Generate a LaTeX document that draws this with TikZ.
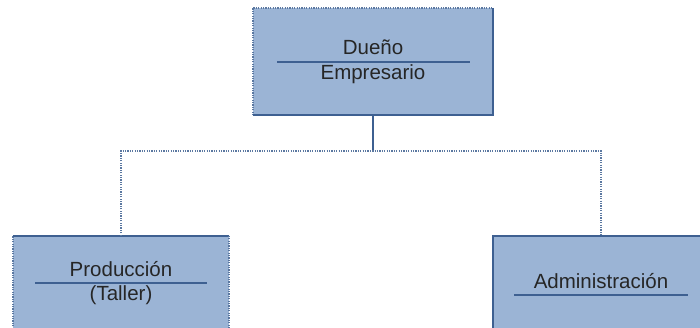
\documentclass[tikz,border=0pt]{standalone}
\usepackage{fontspec}
\setmainfont{Liberation Sans}
\usetikzlibrary{positioning}
\definecolor{cajaazul}{RGB}{155,180,213}
\definecolor{bordeazul}{RGB}{62,96,145}

\begin{document}
\begin{tikzpicture}[x=1pt,y=1pt]
\tikzstyle{caja}=[fill=cajaazul, minimum width=240pt, minimum height=107pt, inner sep=0pt]
\tikzstyle{texto}=[font=\fontsize{20.5}{24}\selectfont, text=black!85, inner sep=0pt, anchor=base]
\tikzstyle{raya}=[bordeazul, line width=2pt]
\tikzstyle{borde}=[bordeazul, line width=1.6pt]
\tikzstyle{punteado}=[bordeazul!85, line width=1.5pt, dash pattern=on 1.2pt off 1.2pt]
\useasboundingbox (0,0) rectangle (700,-328);
\clip (0,0) rectangle (700,-328);
% cajas
\node [caja] (duenio) at (373,-61.5) {};
\node [caja, minimum width=216pt] (prod) at (121,-289.5) {};
\node [caja, minimum width=216pt] (admin) at (601,-289.5) {};
% bordes
\draw [punteado] (duenio.south west) -- (duenio.north west) -- (duenio.north east);
\draw [borde] (duenio.north east) -- (duenio.south east) -- (duenio.south west);
\draw [punteado] (prod.south west) -- (prod.north west);
\draw [borde] (prod.north west) -- (prod.north east);
\draw [punteado] (prod.north east) -- (prod.south east);
\draw [borde] (admin.south west) -- (admin.north west) -- (admin.north east);
% textos
\coordinate (d1) at (277,-62);
\coordinate (d2) at (470,-62);
\draw [raya] (d1) -- (d2);
\node [texto] (tduenio) at (373,-55) {Dueño};
\node [texto] (templ) at (373,-80) {Empresario};
\coordinate (p1) at (35,-283);
\coordinate (p2) at (207,-283);
\draw [raya] (p1) -- (p2);
\node [texto] (tprod) at (121,-276) {Producción};
\node [texto] (ttaller) at (121,-300) {(Taller)};
\coordinate (a1) at (514,-295);
\coordinate (a2) at (688,-295);
\draw [raya] (a1) -- (a2);
\node [texto] (tadmin) at (601,-288) {Administración};
% conectores
\coordinate (rama) at (373,-151);
\draw [borde] (duenio.south) -- (rama);
\draw [punteado] (prod.north) |- (rama) -| (admin.north);
\end{tikzpicture}
\end{document}
